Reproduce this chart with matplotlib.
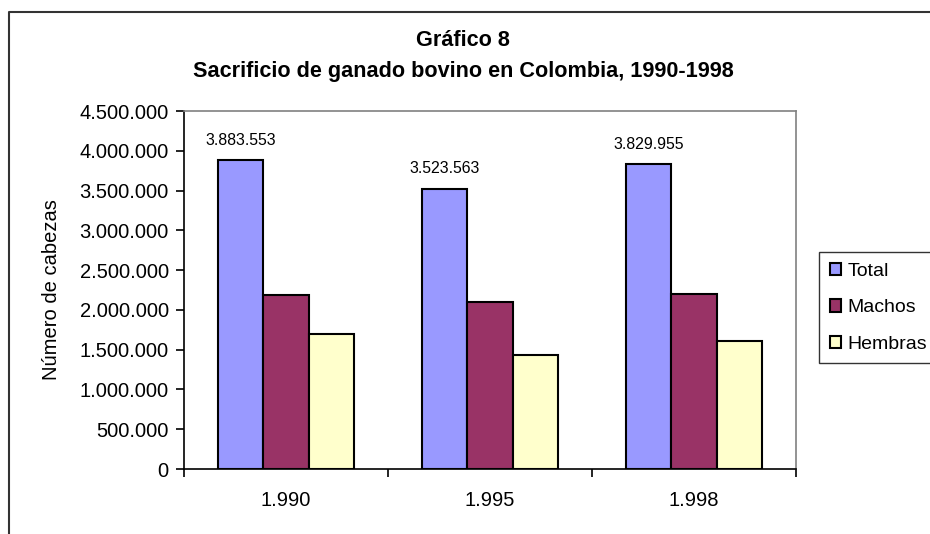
import matplotlib
matplotlib.use("Agg")
import matplotlib.pyplot as plt
from matplotlib.lines import Line2D
from matplotlib.ticker import FuncFormatter
import numpy as np

plt.rcParams['font.family'] = ['Liberation Sans', 'DejaVu Sans']

# Datos
years = ['1.990', '1.995', '1.998']
total = [3883553, 3523563, 3829955]
machos = [2190000, 2095000, 2195000]
hembras = [1693000, 1428000, 1615000]
series_names = ['Total', 'Machos', 'Hembras']
colors = ['#9999FF', '#993366', '#FFFFCC']

fig = plt.figure(figsize=(9.3, 5.34), dpi=100)
ax = fig.add_axes([0.1978, 0.1217, 0.856 - 0.1978, 0.7921 - 0.1217])

x = np.arange(len(years))
w = 0.222
handles = []
for i, (vals, name, c) in enumerate(zip([total, machos, hembras], series_names, colors)):
    b = ax.bar(x + (i - 1) * w, vals, w, color=c, edgecolor='black', linewidth=1.5, label=name)
    handles.append(b)

# etiquetas sobre las barras del total
for xi, v in zip(x, total):
    ax.annotate(f'{v:,}'.replace(',', '.'), xy=(xi - w, v), xytext=(0, 9),
                textcoords='offset points', ha='center', va='bottom', fontsize=11.4)

ax.set_xlim(-0.5, 2.5)
ax.set_ylim(0, 4500000)
ax.set_yticks(np.arange(0, 4500001, 500000))
ax.yaxis.set_major_formatter(FuncFormatter(lambda v, p: f'{int(v):,}'.replace(',', '.')))
ax.set_xticks(x)
ax.set_xticklabels(years)
ax.set_xticks([-0.5, 0.5, 1.5, 2.5], minor=True)
ax.tick_params(axis='x', which='major', length=0, pad=16, labelsize=14.5)
ax.tick_params(axis='x', which='minor', length=6, width=1.2, direction='out')
ax.tick_params(axis='y', length=6, width=1.2, direction='out', labelsize=14.5, pad=5)

for s in ['top', 'right']:
    ax.spines[s].set_color('#808080')
    ax.spines[s].set_linewidth(1.2)
for s in ['left', 'bottom']:
    ax.spines[s].set_color('black')
    ax.spines[s].set_linewidth(1.2)

ax.set_ylabel('Número de cabezas', fontsize=14.5, labelpad=13)

fig.text(0.498, 1 - 40 / 534, 'Gráfico 8', ha='center', va='center',
         fontsize=15.6, fontweight='bold')
fig.text(0.498, 1 - 71 / 534, 'Sacrificio de ganado bovino en Colombia, 1990-1998',
         ha='center', va='center', fontsize=15.6, fontweight='bold')

leg = fig.legend(handles=handles, labels=series_names, loc='upper left',
                 bbox_to_anchor=(819 / 930, 1 - 252 / 534), fontsize=14,
                 frameon=True, fancybox=False, edgecolor='black',
                 handlelength=0.6, handleheight=0.6, handletextpad=0.3,
                 labelspacing=1.0, borderpad=0.55, borderaxespad=0)
leg.get_frame().set_linewidth(1.0)

# marco exterior del gráfico
fig.add_artist(Line2D([9 / 930, 9 / 930, 1.0], [0.0, 1 - 12 / 534, 1 - 12 / 534],
                      transform=fig.transFigure, color='#333333', linewidth=1.5))

fig.savefig('out.png', dpi=100)
